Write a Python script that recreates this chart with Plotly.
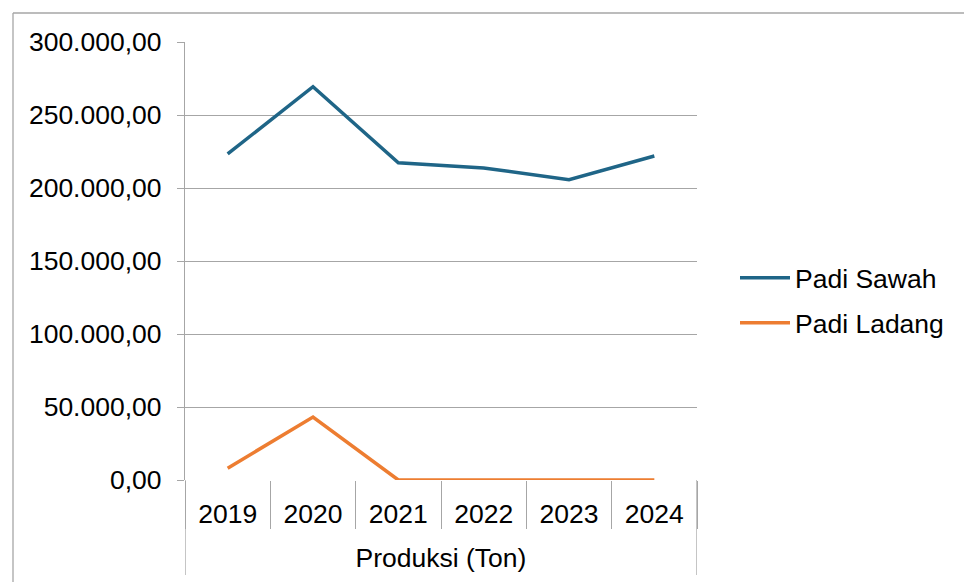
import plotly.graph_objects as go

years = ["2019", "2020", "2021", "2022", "2023", "2024"]
group_label = "Produksi (Ton)"
padi_sawah = [223300, 269400, 217300, 213700, 205700, 221900]
padi_ladang = [8100, 43100, 0, 0, 0, 0]
y_ticks = [0, 50000, 100000, 150000, 200000, 250000, 300000]

FONT = "Liberation Sans, Arial, sans-serif"
FS = 26.5
GRID = "#a6a6a6"
OFF = 8  # page body margin
W, H = 972 - OFF, 582 - OFF
L, R, T, B = 185 - OFF, 697 - OFF, 42 - OFF, 480 - OFF
PW, PH = R - L, B - T

def px(x):
    return (x - OFF - L) / PW

def py(y):
    return (B - (y - OFF)) / PH

fig = go.Figure()
fig.add_trace(go.Scatter(x=years, y=padi_sawah, mode="lines", name="Padi Sawah",
                         line=dict(color="#1f6587", width=3.5), legend="legend"))
fig.add_trace(go.Scatter(x=years, y=padi_ladang, mode="lines", name="Padi Ladang",
                         line=dict(color="#ed7d31", width=3.5), legend="legend2"))

leg = dict(xref="container", yref="container", xanchor="left", yanchor="middle",
           bgcolor="rgba(0,0,0,0)", font=dict(size=FS, family=FONT), itemwidth=50)

fig.update_layout(
    width=W, height=H,
    margin=dict(l=L, r=W - R, t=T, b=H - B, pad=0),
    paper_bgcolor="white", plot_bgcolor="white",
    font=dict(family=FONT, size=FS, color="black"),
    separators=",.",
    showlegend=True,
    legend=dict(leg, x=(735 - OFF) / W, y=1 - (278 - OFF) / H),
    legend2=dict(leg, x=(735 - OFF) / W, y=1 - (323 - OFF) / H),
    xaxis=dict(type="category", range=[-0.5, 5.5], showgrid=False, zeroline=False,
               showline=False, ticks="outside", ticklen=48, tickson="boundaries",
               tickcolor=GRID, tickwidth=1.3, ticklabelstandoff=15,
               tickfont=dict(size=FS, family=FONT, color="black"),
               title=dict(text=group_label, standoff=20,
                          font=dict(size=FS, family=FONT, color="black"))),
    yaxis=dict(range=[0, 300000], tickvals=y_ticks, tickformat=",.2f",
               showgrid=True, gridcolor=GRID, gridwidth=1.3, zeroline=False,
               showline=True, linecolor=GRID, linewidth=1.3,
               ticks="outside", ticklen=7, tickcolor=GRID, tickwidth=1.3,
               ticklabelstandoff=10,
               tickfont=dict(size=FS, family=FONT, color="black")),
    shapes=[
        # outer dividers of the category group
        dict(type="line", xref="x", yref="paper", x0=-0.5, x1=-0.5, y0=0, y1=py(575),
             line=dict(color=GRID, width=1.3)),
        dict(type="line", xref="x", yref="paper", x0=5.5, x1=5.5, y0=0, y1=py(575),
             line=dict(color=GRID, width=1.3)),
        # chart frame
        dict(type="line", xref="paper", yref="paper", x0=px(13), x1=px(990),
             y0=py(13), y1=py(13), line=dict(color=GRID, width=1.3)),
        dict(type="line", xref="paper", yref="paper", x0=px(13), x1=px(13),
             y0=py(13), y1=py(600), line=dict(color=GRID, width=1.3)),
    ],
)

fig.write_html("out.html")
